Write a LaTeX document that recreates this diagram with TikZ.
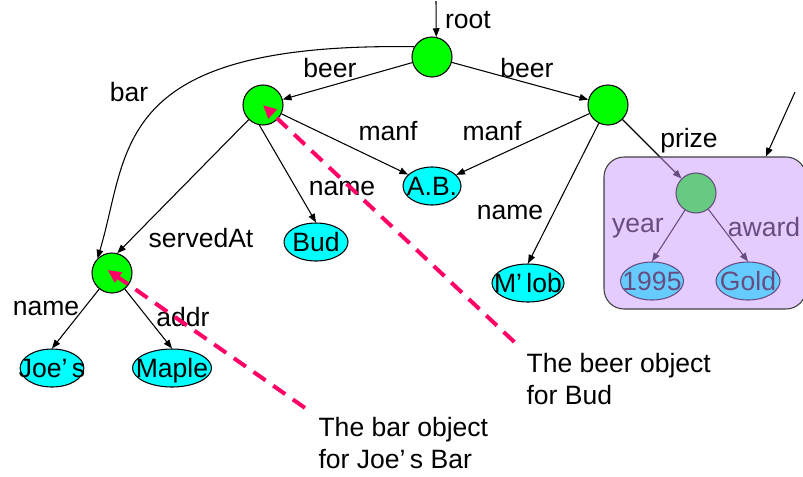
\documentclass[tikz,border=0pt]{standalone}
\usepackage{fontspec}
\setmainfont{Liberation Sans}
\usetikzlibrary{arrows.meta,shapes.geometric,calc}
\definecolor{objfill}{RGB}{0,255,0}
\definecolor{valfill}{RGB}{0,255,255}
\definecolor{grpfill}{RGB}{204,153,255}
\definecolor{hintcol}{RGB}{255,0,102}
\begin{document}
\begin{tikzpicture}[x=0.75pt,y=-0.75pt,thick,line join=round,
  font=\fontsize{19.9}{23.8}\selectfont,
  obj/.style={circle,draw,fill=objfill,minimum size=30pt,inner sep=0pt},
  val/.style={ellipse,draw,fill=valfill,inner xsep=-8pt,inner ysep=0pt,
    text height=14.3pt,text depth=0pt,minimum height=28.5pt},
  lbl/.style={inner sep=0pt},
  lnk/.style={-{Triangle[length=6.5pt,width=5pt]}},
  hint/.style={draw=hintcol,line width=3pt,dash pattern=on 11pt off 7pt,
    -{Triangle[length=10pt,width=9pt]}}]
  \clip (0,0) rectangle (803,476);
  \node[obj] (r) at (432,57) {};
  \node[obj] (b1) at (263,105) {};
  \node[obj] (b2) at (608,105) {};
  \node[obj] (bar) at (112,273) {};
  \node[obj] (prz) at (696,193) {};
  \node[val,minimum width=43.5pt] (ab) at (432,186) {A.B.};
  \node[val,minimum width=48pt] (bud) at (316,242) {Bud};
  \node[val,minimum width=54pt] (mlob) at (528,283) {M’\,lob};
  \node[val,minimum width=47.25pt] (joes) at (52,368) {Joe’\,s};
  \node[val,minimum width=59.25pt] (maple) at (172,368) {Maple};
  \node[val,minimum width=47.25pt] (y95) at (652,281) {1995};
  \node[val,minimum width=48pt] (gold) at (748,281) {Gold};
  \node[lbl] (lroot) at (468,20) {root};
  \node[lbl] (lbeer1) at (330,68) {beer};
  \node[lbl] (lbeer2) at (527,68) {beer};
  \node[lbl] (lbar) at (129,92) {bar};
  \node[lbl] (lmanf1) at (388,131) {manf};
  \node[lbl] (lmanf2) at (492,131) {manf};
  \node[lbl] (lname1) at (342,188) {name};
  \node[lbl] (lname2) at (510,212) {name};
  \node[lbl] (lserved) at (201,238) {servedAt};
  \node[lbl] (lname3) at (46,308) {name};
  \node[lbl] (laddr) at (183,317) {addr};
  \node[lbl] (lprize) at (689,141) {prize};
  \node[lbl] (lyear) at (638,228) {year};
  \node[lbl] (laward) at (764,227) {award};
  \node[lbl,anchor=north west,align=left] (nbeer) at (526,353) {The beer object\\for Bud};
  \node[lbl,anchor=north west,align=left] (nbar) at (318,417) {The bar object\\for Joe’\,s Bar};
  \coordinate (rin) at (436,1);
  \coordinate (ptr) at (795,92);
  \draw[lnk] (rin) -- (r.78);
  \draw[lnk] (r) -- (b1);
  \draw[lnk] (r) -- (b2);
  \draw[lnk] (r.150) .. controls (110,42) and (130,150) .. (bar.135);
  \draw[lnk] (b1) -- (bar.75);
  \draw[lnk] (b1.260) -- (bud.north);
  \draw[lnk] (b1) -- (ab);
  \draw[lnk] (b2) -- (ab);
  \draw[lnk] (b2) -- (mlob.north);
  \draw[lnk] (b2) -- (prz);
  \draw[lnk] (bar) -- (joes.north);
  \draw[lnk] (bar) -- (maple.north);
  \draw[lnk] (prz) -- (y95.north);
  \draw[lnk] (prz) -- (gold.north);
  \node[draw=black!75,fill=grpfill,fill opacity=0.5,rounded corners=15pt,
    minimum width=151.5pt,minimum height=114pt] (grp) at (705,233) {};
  \draw[lnk] (ptr) -- ($(grp.north)!0.6!(grp.north east)$);
  \draw[hint,shorten <=12pt,shorten >=-4pt] (nbar.north west) -- (bar.center);
  \draw[hint,shorten <=12pt] (nbeer.north west) -- (b1.center);
\end{tikzpicture}
\end{document}
